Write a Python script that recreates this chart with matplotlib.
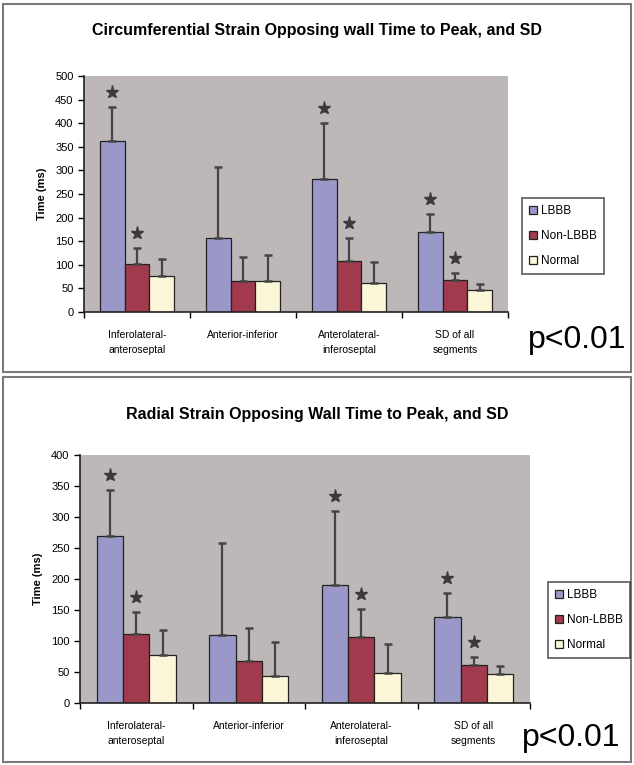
import matplotlib
matplotlib.use("Agg")
import matplotlib.pyplot as plt
from matplotlib.patches import Rectangle
import numpy as np

categories = ["Inferolateral-\nanteroseptal", "Anterior-inferior", "Anterolateral-\ninferoseptal", "SD of all\nsegments"]
series = ["LBBB", "Non-LBBB", "Normal"]

circ_mean = {"LBBB": [362, 157, 282, 170], "Non-LBBB": [102, 65, 108, 68], "Normal": [77, 65, 62, 47]}
circ_top = {"LBBB": [435, 307, 400, 208], "Non-LBBB": [136, 117, 156, 82], "Normal": [112, 120, 105, 59]}
circ_star = {"LBBB": [True, False, True, True], "Non-LBBB": [True, False, True, True], "Normal": [False, False, False, False]}

rad_mean = {"LBBB": [270, 110, 191, 139], "Non-LBBB": [112, 67, 107, 61], "Normal": [78, 43, 49, 47]}
rad_top = {"LBBB": [343, 258, 310, 177], "Non-LBBB": [146, 121, 152, 75], "Normal": [117, 98, 95, 59]}
rad_star = circ_star

colors = {"LBBB": "#9a98c8", "Non-LBBB": "#a23a4e", "Normal": "#fbf6d8"}
plt.rcParams['font.family'] = ['Liberation Sans', 'DejaVu Sans']

W, H = 634, 765
fig = plt.figure(figsize=(W/100, H/100), dpi=100)
fig.patch.set_facecolor("white")

def fx(x): return x / W
def fy(y): return 1 - y / H

# panel borders
for (y0, y1) in [(4, 372), (377, 762)]:
    fig.patches.append(Rectangle((fx(3), fy(y1)), fx(628), (y1 - y0) / H, transform=fig.transFigure,
                                 fill=False, edgecolor="#7a7a7a", linewidth=1.5))

def draw(ax_rect, mean, top, star, ymax, title, title_y, legend_pos, p_pos, legend_label2):
    l, t, r, b = ax_rect
    ax = fig.add_axes([fx(l), fy(b), fx(r - l), (b - t) / H])
    ax.set_facecolor("#bdb7b7")
    x = np.arange(len(categories))
    w = 0.235
    offs = [-w, 0, w]
    handles = []
    star_off = 15.0 * ymax / (b - t)
    for s, o in zip(series, offs):
        m = np.array(mean[s]); tp = np.array(top[s])
        bars = ax.bar(x + o, m, w, color=colors[s], edgecolor="#222222", linewidth=0.9, zorder=2,
                      label=s)
        handles.append(bars)
        ax.errorbar(x + o, m, yerr=[np.zeros_like(m), tp - m], fmt="none", ecolor="#444444",
                    elinewidth=1.6, capsize=3, capthick=1.8, zorder=3)
        for xi, ti, st in zip(x + o, tp, star[s]):
            if st:
                ax.plot([xi], [ti + star_off], marker="*", markersize=9.5, color="#3a3a3a",
                        zorder=4, clip_on=False)
    ax.set_xlim(-0.5, len(categories) - 0.5)
    ax.set_ylim(0, ymax)
    ax.set_yticks(np.arange(0, ymax + 1, 50))
    ax.tick_params(axis="y", labelsize=8, length=4, direction="out", width=1)
    ax.set_xticks(np.arange(-0.5, len(categories), 1.0))
    ax.set_xticklabels([])
    ax.set_xticks(x, minor=True)
    ax.set_xticklabels(categories, minor=True, fontsize=7.5, linespacing=1.6)
    ax.tick_params(axis="x", which="minor", length=0, pad=13)
    ax.tick_params(axis="x", which="major", length=4, width=1)
    for sp in ["top", "right"]:
        ax.spines[sp].set_visible(False)
    for sp in ["left", "bottom"]:
        ax.spines[sp].set_linewidth(1.2)
        ax.spines[sp].set_color("#222222")
    ax.set_ylabel("Time (ms)", fontsize=8, fontweight="bold", labelpad=6)
    fig.text(0.5, fy(title_y), title, ha="center", va="center",
             fontsize=11.5, fontweight="bold")
    labels = ["LBBB", legend_label2, "Normal"]
    leg = fig.legend(handles, labels, loc="upper left", bbox_to_anchor=(fx(legend_pos[0]), fy(legend_pos[1])),
                     fontsize=8.5, frameon=True, fancybox=False, edgecolor="#333333", handlelength=0.7,
                     handleheight=0.7, handletextpad=0.3, borderpad=0.6, labelspacing=1.1)
    leg.get_frame().set_linewidth(1.2)
    fig.text(fx(p_pos[0]), fy(p_pos[1]), "p<0.01", ha="left", va="center", fontsize=23)
    return ax

draw((84, 76, 508, 312), circ_mean, circ_top, circ_star, 500,
     "Circumferential Strain Opposing wall Time to Peak, and SD", 31, (516, 192), (528, 340), "Non-LBBB")
draw((80, 455, 530, 703), rad_mean, rad_top, rad_star, 400,
     "Radial Strain Opposing Wall Time to Peak, and SD", 414, (542, 576), (522, 738), "Non-LBBB")

fig.savefig("out.png", dpi=100, facecolor="white")
